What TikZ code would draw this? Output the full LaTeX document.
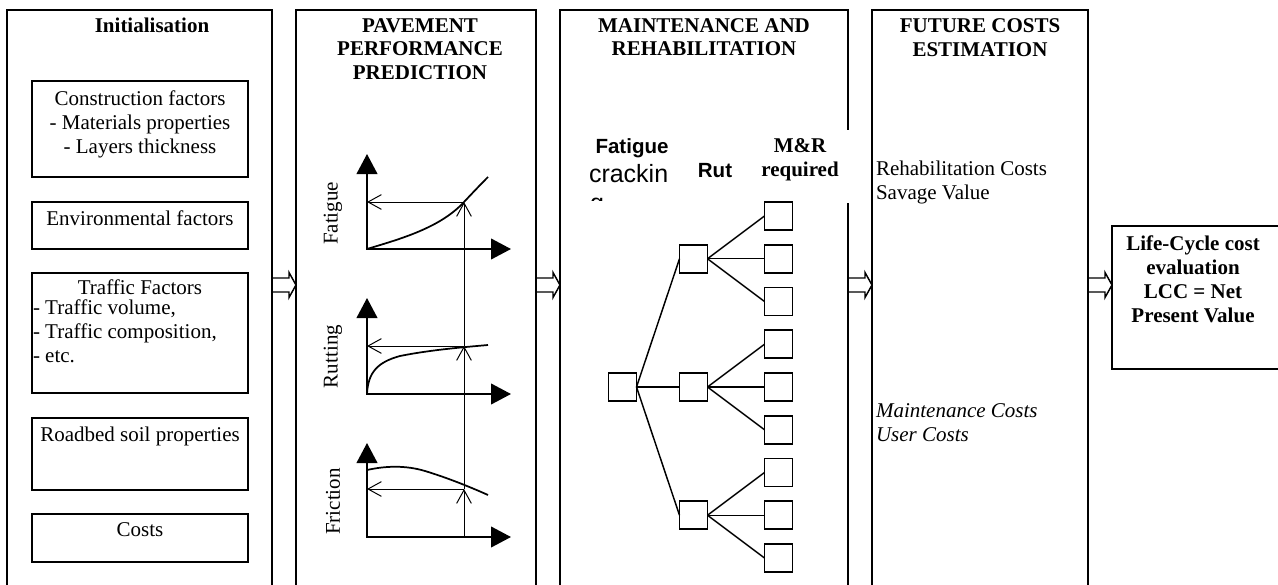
\documentclass[tikz,border=0pt]{standalone}
\usepackage{fontspec}
\setmainfont{Liberation Serif}
\newfontfamily\arialfont{Liberation Sans}
\usetikzlibrary{arrows.meta,calc}

% outline arrow between two stages: #1 = tail point, #2 = tip point
\newcommand\hollowarrow[2]{%
  \draw[hollow] ($(#1)+(0,-7)$) -- ($(#2)+(-7,-7)$) -- ($(#2)+(-7,-12.5)$) -- (#2)
    -- ($(#2)+(-7,12.5)$) -- ($(#2)+(-7,7)$) -- ($(#1)+(0,7)$);}

\begin{document}
\begin{tikzpicture}[x=0.75pt,y=-0.75pt,
  every node/.style={inner sep=0pt, outer sep=0pt},
  frame/.style={draw, line width=1.2pt, anchor=north west},
  inbox/.style={draw, line width=1.1pt, anchor=north west},
  title/.style={font=\fontsize{15.75}{17.6}\selectfont\bfseries, align=center},
  txt/.style={font=\fontsize{15.75}{18}\selectfont},
  itxt/.style={font=\fontsize{15.75}{18}\selectfont\itshape},
  lcc/.style={font=\fontsize{15.75}{18}\selectfont\bfseries, align=center},
  sanslab/.style={font=\arialfont\bfseries\fontsize{15.4}{18}\selectfont},
  sansbig/.style={font=\arialfont\fontsize{18.75}{22}\selectfont},
  axis/.style={line width=1.5pt, {Triangle[length=15pt,width=15.5pt]}-{Triangle[length=15pt,width=15.5pt]}},
  curve/.style={line width=1.3pt},
  guide/.style={line width=0.75pt, -{Straight Barb[length=10pt,width=11pt]}},
  mrsq/.style={draw, line width=1.25pt, minimum size=21pt},
  branch/.style={line width=1.1pt},
  hollow/.style={draw, line width=1.1pt, line join=miter}]

\path[use as bounding box] (0,0) rectangle (1278,585);
\fill[white] (0,0) rectangle (1278,585);
\clip (0,0) rectangle (1278,585);

% ---------- stage frames ----------
\node[frame, minimum width=265*0.75pt, minimum height=600*0.75pt] (init) at (7,10) {};
\node[frame, minimum width=240*0.75pt, minimum height=600*0.75pt] (perf) at (296,10) {};
\node[frame, minimum width=288*0.75pt, minimum height=600*0.75pt] (mr) at (560,10) {};
\node[frame, minimum width=216*0.75pt, minimum height=600*0.75pt] (cost) at (872,10) {};
\node[frame, minimum width=178*0.75pt, minimum height=143*0.75pt] (lcc) at (1112,226) {};

% ---------- arrows between stages ----------
\coordinate (a1s) at (272,285); \coordinate (a1e) at (296,285);
\coordinate (a2s) at (536,285); \coordinate (a2e) at (560,285);
\coordinate (a3s) at (848,285); \coordinate (a3e) at (872,285);
\coordinate (a4s) at (1088,285); \coordinate (a4e) at (1112,285);
\hollowarrow{a1s}{a1e}
\hollowarrow{a2s}{a2e}
\hollowarrow{a3s}{a3e}
\hollowarrow{a4s}{a4e}

% ---------- titles ----------
\node[title] (t1) at (152,25) {Initialisation};
\node[title] (t2) at (420,49) {PAVEMENT\\PERFORMANCE\\PREDICTION};
\node[title] (t3) at (704,37) {MAINTENANCE AND\\REHABILITATION};
\node[title] (t4) at (980,37.5) {FUTURE COSTS\\ESTIMATION};

% ---------- initialisation inputs ----------
\node[inbox, minimum width=216*0.75pt, minimum height=96*0.75pt] (b1) at (32,81) {};
\node[txt, align=center] (b1t) at (140,124) {Construction factors\\- Materials properties\\- Layers thickness};
\node[inbox, minimum width=216*0.75pt, minimum height=47*0.75pt] (b2) at (32,202) {};
\node[txt] (b2t) at (140,218.5) {Environmental factors};
\node[inbox, minimum width=216*0.75pt, minimum height=120*0.75pt] (b3) at (32,273) {};
\node[txt] (b3t) at (140,287) {Traffic Factors};
\node[txt, align=left, anchor=west] (b3l) at (33,331) {- Traffic volume,\\- Traffic composition,\\- etc.};
\node[inbox, minimum width=216*0.75pt, minimum height=72*0.75pt] (b4) at (32,418) {};
\node[txt] (b4t) at (140,436) {Roadbed soil properties};
\node[inbox, minimum width=216*0.75pt, minimum height=48*0.75pt] (b5) at (32,514) {};
\node[txt] (b5t) at (140,530) {Costs};

% ---------- performance curves ----------
\coordinate (o1) at (367,249); \coordinate (y1) at (367,154); \coordinate (x1) at (511,249);
\coordinate (o2) at (367,394); \coordinate (y2) at (367,298); \coordinate (x2) at (511,394);
\coordinate (o3) at (367,537); \coordinate (y3) at (367,443); \coordinate (x3) at (511,537);
\coordinate (p1) at (464,202);
\coordinate (p2) at (464,346);
\coordinate (p3) at (464,489);
\coordinate (q0) at (o3 -| p3);

\draw[axis] (y1) -- (o1) -- (x1);
\draw[axis] (y2) -- (o2) -- (x2);
\draw[axis] (y3) -- (o3) -- (x3);

\draw[curve] (o1) .. controls (400,239) and (440,228) .. (p1)
  .. controls (472,193.5) and (480,185) .. (488,177);
\draw[curve] (o2) .. controls (368,372) and (378,362) .. (400,356)
  .. controls (430,350) and (460,347.5) .. (488,345);
\draw[curve] (367,470) .. controls (385,466) and (405,465) .. (425,471)
  .. controls (445,477) and (468,486) .. (488,495);

\draw[guide] (q0) -- (p3);
\draw[guide] (p3) -- (p2);
\draw[guide] (p2) -- (p1);
\draw[guide] (p1) -- (p1 -| o1);
\draw[guide] (p2) -- (p2 -| o2);
\draw[guide] (p3) -- (p3 -| o3);

\node[txt, rotate=90] (lf) at (333,213.5) {Fatigue};
\node[txt, rotate=90] (lr) at (333,356.5) {Rutting};
\node[txt, rotate=90] (lfr) at (333,501.5) {Friction};

% ---------- M&R decision tree ----------
\node[fill=white, minimum width=80*0.75pt, minimum height=73*0.75pt, anchor=north west] (mrcover) at (772,130) {};
\node[sanslab, anchor=base] (hfat) at (632,153) {Fatigue};
\node[sansbig, anchor=base west] (hcrack) at (589,182) {crackin};
\begin{scope}
  \clip (580,190) rectangle (680,200.5);
  \node[sansbig, anchor=base west] (hcracktail) at (590,211) {g};
\end{scope}
\node[sanslab, anchor=base] (hrut) at (715,177) {Rut};
\node[lcc] (hmr) at (800,160) {M\&R\\required};

\node[mrsq] (root) at (622.5,387) {};
\node[mrsq] (m1) at (693.5,258.75) {};
\node[mrsq] (m2) at (693.5,387) {};
\node[mrsq] (m3) at (693.5,515.25) {};
\foreach \i in {0,...,8}
  \node[mrsq] (l\i) at (778.5,{216+42.75*\i}) {};

\foreach \m in {m1,m2,m3}
  \draw[branch] (root.east) -- (\m.west);
\foreach \m/\a/\b/\c in {m1/l0/l1/l2, m2/l3/l4/l5, m3/l6/l7/l8} {
  \draw[branch] (\m.east) -- (\a.west);
  \draw[branch] (\m.east) -- (\b.west);
  \draw[branch] (\m.east) -- (\c.west);
}

% ---------- future costs ----------
\node[txt, align=left, anchor=west] (crehab) at (876,182.5) {Rehabilitation Costs\\Savage Value};
\node[itxt, align=left, anchor=west] (cmaint) at (876,422.5) {Maintenance Costs\\User Costs};

% ---------- result ----------
\node[lcc] (lcct) at (1193,279.5) {Life-Cycle cost\\evaluation\\LCC = Net\\Present Value};

\end{tikzpicture}
\end{document}
